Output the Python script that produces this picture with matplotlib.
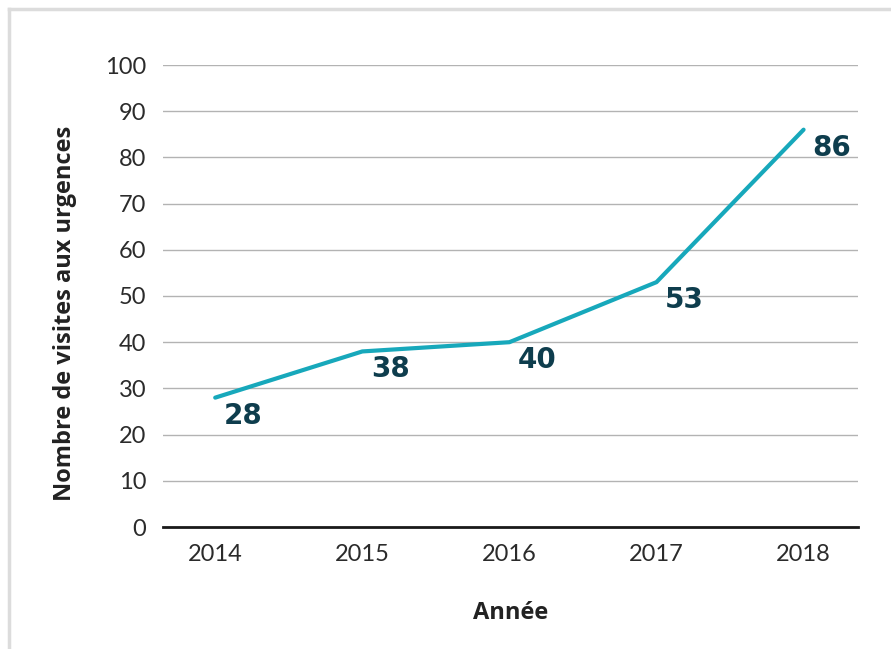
import matplotlib
matplotlib.use("Agg")
import matplotlib.pyplot as plt
from matplotlib.lines import Line2D

years = ["2014", "2015", "2016", "2017", "2018"]
visits = [28, 38, 40, 53, 86]
yticks = [0, 10, 20, 30, 40, 50, 60, 70, 80, 90, 100]

plt.rcParams['font.family'] = ['Lato', 'DejaVu Sans']

fig = plt.figure(figsize=(8.91, 6.49), dpi=100)
ax = fig.add_axes([163/891, 1-527/649, (858-163)/891, (527-65)/649])

x = list(range(len(years)))
ax.plot(x, visits, color="#17a8bb", lw=3, solid_capstyle="round", zorder=3)
for xi, v in zip(x, visits):
    ax.annotate(str(v), (xi, v), xytext=(28, -18), textcoords="offset pixels",
                ha="center", va="center", fontsize=20, fontweight="bold",
                family=["DejaVu Sans"], color="#0e3d4d", zorder=4)

ax.set_xlim(-0.355, 4.37)
ax.set_ylim(0, 100)
ax.set_yticks(yticks)
ax.set_xticks(x)
ax.set_xticklabels(years)
ax.grid(axis="y", color="#b3b3b3", lw=1)
ax.set_axisbelow(True)
for s in ["top", "right", "left"]:
    ax.spines[s].set_visible(False)
ax.spines["bottom"].set_color("#1a1a1a")
ax.spines["bottom"].set_linewidth(2)
ax.spines["bottom"].set_zorder(2)
ax.tick_params(axis="both", length=0, labelsize=17, colors="#2b2b2b")
ax.tick_params(axis="y", pad=12)
ax.tick_params(axis="x", pad=12)

ax.set_xlabel("Année", fontsize=17, fontweight="bold", color="#222222",
              family=["Open Sans", "DejaVu Sans"], labelpad=26)
ax.set_ylabel("Nombre de visites aux urgences", fontsize=17, fontweight="bold",
              color="#222222", family=["Open Sans", "DejaVu Sans"], labelpad=20)
ax.yaxis.label.set_y(0.463)

# frame border (left and top)
fig.add_artist(Line2D([9/891, 9/891], [0, 1-9/649], transform=fig.transFigure,
                      color="#dcdcdc", lw=2.5))
fig.add_artist(Line2D([9/891, 1], [1-9/649, 1-9/649], transform=fig.transFigure,
                      color="#dcdcdc", lw=2.5))

fig.savefig("out.png", dpi=100)
